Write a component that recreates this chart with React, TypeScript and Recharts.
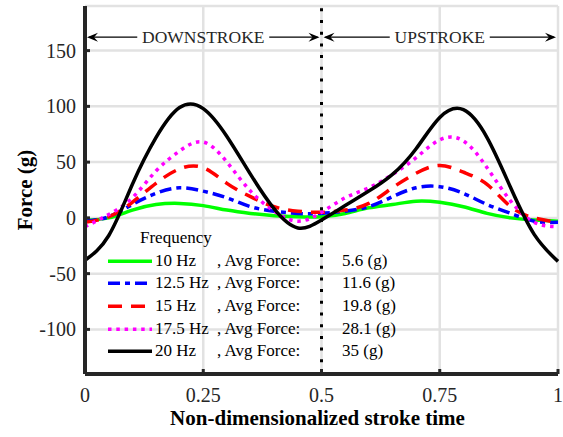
import React from "react";
import {
  LineChart,
  Line,
  XAxis,
  YAxis,
  CartesianGrid,
  ReferenceLine,
  Legend,
  Label,
} from "recharts";

const FONT = '"Liberation Serif", "Times New Roman", serif';
const INK = "#262626";

// normalized stroke time, one sample every 0.05
const strokeTime = [
  0, 0.05, 0.1, 0.15, 0.2, 0.25, 0.3, 0.35, 0.4, 0.45, 0.5, 0.55, 0.6, 0.65,
  0.7, 0.75, 0.8, 0.85, 0.9, 0.95, 1,
];

// measured force (g) per flapping frequency
const force10 = [-2, 0, 7, 12, 13, 11, 7, 4, 2, 1, 1, 4, 9, 12, 15, 14, 10, 4, 0, -2, -3];
const force12_5 = [-3, 1, 12, 22, 27, 24, 18, 10, 6, 4, 4, 6, 10, 19, 27, 28, 22, 12, 4, -3, -4];
const force15 = [-4, 1, 14, 31, 44, 45, 31, 19, 10, 6, 5, 7, 13, 27, 40, 47, 41, 30, 10, 0, -4];
const force17_5 = [-8, 3, 18, 42, 60, 68, 50, 24, 6, -3, 5, 18, 27, 39, 54, 70, 69, 45, 15, -4, -8];
const force20 = [-38, -16, 30, 72, 99, 98, 73, 39, 8, -9, -2, 11, 24, 39, 62, 90, 97, 72, 27, -15, -39];

const freqLabels = ["10 Hz", "12.5 Hz", "15 Hz", "17.5 Hz", "20 Hz"];
const avgForce = [5.6, 11.6, 19.8, 28.1, 35];

const xTicks = [0, 0.25, 0.5, 0.75, 1];
const yTicks = [-100, -50, 0, 50, 100, 150];

const series = [
  { key: "f10", values: force10, color: "#00ff00", dash: undefined },
  { key: "f12_5", values: force12_5, color: "#0000ff", dash: "12 5 5 5" },
  { key: "f15", values: force15, color: "#ff0000", dash: "14 9" },
  { key: "f17_5", values: force17_5, color: "#ff00ff", dash: "3.5 4.8" },
  { key: "f20", values: force20, color: "#000000", dash: undefined },
];

const rows = strokeTime.map((t, i) => {
  const row: Record<string, number> = { t };
  series.forEach((s) => {
    row[s.key] = s.values[i];
  });
  return row;
});

// double-headed arrow with a caption in the middle
const StrokeSpan = (props: any) => {
  const { x1 = 0, x2 = 0, y1 = 0, text, gap } = props;
  const mid = (x1 + x2) / 2;
  const head = (tip: number, dir: number) =>
    `M${tip},${y1} L${tip + dir * 11},${y1 - 4.5} L${tip + dir * 7},${y1} L${tip + dir * 11},${y1 + 4.5} Z`;
  return (
    <g>
      <line x1={x1 + 4} y1={y1} x2={mid - gap} y2={y1} stroke="#000" strokeWidth={1.3} />
      <line x1={mid + gap} y1={y1} x2={x2 - 4} y2={y1} stroke="#000" strokeWidth={1.3} />
      <path d={head(x1 + 2, 1)} fill="#000" />
      <path d={head(x2 - 2, -1)} fill="#000" />
      <text
        x={mid}
        y={y1}
        dy="0.35em"
        textAnchor="middle"
        fill={INK}
        fontFamily={FONT}
        fontSize={17.5}
      >
        {text}
      </text>
    </g>
  );
};

const LEGEND_ROW = 22.7;

const FrequencyLegend = () => (
  <div style={{ fontFamily: FONT, fontSize: 17, color: "#000", lineHeight: `${LEGEND_ROW}px` }}>
    <div style={{ height: LEGEND_ROW, paddingLeft: 40 }}>Frequency</div>
    {series.map((s, i) => (
      <div key={s.key} style={{ position: "relative", height: LEGEND_ROW }}>
        <svg width={44} height={LEGEND_ROW} style={{ position: "absolute", left: 8, top: 0 }}>
          <line
            x1={0}
            y1={LEGEND_ROW / 2}
            x2={44}
            y2={LEGEND_ROW / 2}
            stroke={s.color}
            strokeWidth={3.5}
            strokeDasharray={s.dash}
          />
        </svg>
        <span style={{ position: "absolute", left: 55, whiteSpace: "pre" }}>{freqLabels[i]}</span>
        <span style={{ position: "absolute", left: 117, whiteSpace: "pre" }}>, Avg Force:</span>
        <span style={{ position: "absolute", left: 242, whiteSpace: "pre" }}>{`${avgForce[i]} (g)`}</span>
      </div>
    ))}
  </div>
);

const tickStyle = { fill: INK, fontSize: 20, fontFamily: FONT };
const frame = { stroke: INK, strokeWidth: 4 };

export default function App() {
  return (
    <div style={{ position: "absolute", left: 0, top: 0, background: "#fff" }}>
      <LineChart
        width={563}
        height={437}
        data={rows}
        margin={{ top: 6, right: 5, bottom: 7, left: 0 }}
      >
        <CartesianGrid stroke="#e2e2e2" strokeWidth={2.5} />
        <XAxis
          dataKey="t"
          type="number"
          domain={[0, 1]}
          ticks={xTicks}
          height={56}
          tick={tickStyle}
          tickSize={-5}
          tickMargin={19}
          tickLine={{ stroke: INK, strokeWidth: 3 }}
          axisLine={frame}
        >
          <Label
            value="Non-dimensionalized stroke time"
            position="insideBottom"
            offset={5}
            dx={-4}
            style={{ fontFamily: FONT, fontSize: 21, fontWeight: "bold", fill: "#000" }}
          />
        </XAxis>
        <XAxis
          xAxisId="top"
          orientation="top"
          type="number"
          domain={[0, 1]}
          ticks={xTicks}
          height={0}
          tick={false}
          tickSize={-5}
          tickLine={{ stroke: INK, strokeWidth: 3 }}
          axisLine={frame}
        />
        <YAxis
          type="number"
          domain={[-140, 190]}
          ticks={yTicks}
          allowDataOverflow
          width={85}
          tick={tickStyle}
          tickSize={-5}
          tickMargin={14}
          tickLine={{ stroke: INK, strokeWidth: 3 }}
          axisLine={frame}
        >
          <Label
            value="Force (g)"
            angle={-90}
            position="insideLeft"
            offset={25}
            style={{
              fontFamily: FONT,
              fontSize: 21,
              fontWeight: "bold",
              fill: "#000",
              textAnchor: "middle",
            }}
          />
        </YAxis>
        <YAxis
          yAxisId="right"
          orientation="right"
          type="number"
          domain={[-140, 190]}
          ticks={yTicks}
          allowDataOverflow
          width={0}
          tick={false}
          tickSize={-5}
          tickLine={{ stroke: INK, strokeWidth: 3 }}
          axisLine={frame}
        />
        {series.map((s) => (
          <Line
            key={s.key}
            dataKey={s.key}
            type="natural"
            stroke={s.color}
            strokeWidth={3.5}
            strokeDasharray={s.dash}
            dot={false}
            activeDot={false}
            isAnimationActive={false}
          />
        ))}
        <ReferenceLine x={0.5} stroke="#000" strokeWidth={3} strokeDasharray="3 8.7" />
        <ReferenceLine
          segment={[
            { x: 0, y: 162 },
            { x: 0.5, y: 162 },
          ]}
          shape={(p: any) => <StrokeSpan {...p} text="DOWNSTROKE" gap={66} />}
        />
        <ReferenceLine
          segment={[
            { x: 0.5, y: 162 },
            { x: 1, y: 162 },
          ]}
          shape={(p: any) => <StrokeSpan {...p} text="UPSTROKE" gap={50} />}
        />
        <Legend
          layout="vertical"
          align="center"
          verticalAlign="middle"
          wrapperStyle={{ left: 100, top: 227, width: 320 }}
          content={() => <FrequencyLegend />}
        />
      </LineChart>
    </div>
  );
}
